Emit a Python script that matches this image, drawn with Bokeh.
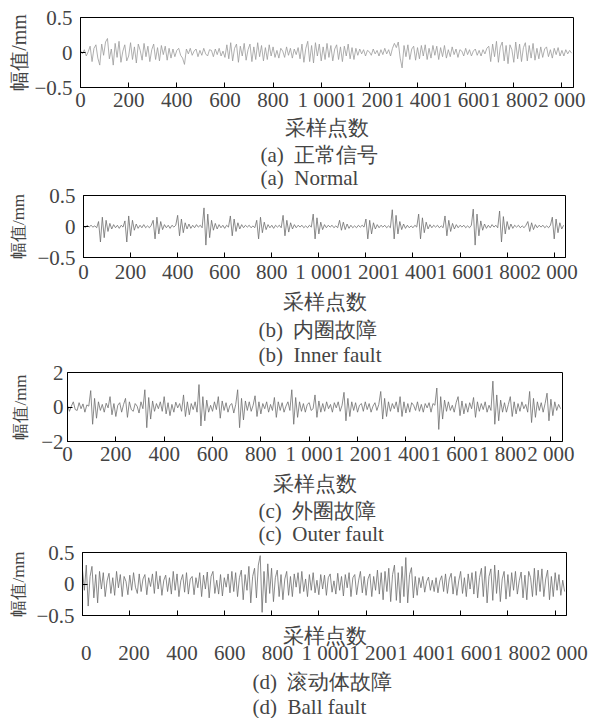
import numpy as np
from bokeh.plotting import figure
from bokeh.models import FixedTicker, LinearAxis, Range1d, Title
from bokeh.embed import file_html
from bokeh.resources import INLINE

# sample spacing of the values (samples 0..2047)
STEP = 8

normal = [
    .03, -.02, .04, -.05, .01, .09, -.13, .06, .11, -.08, -.18, .12, -.04, .15, .2, -.09,
    .05, -.18, .13, -.07, .16, -.14, .02, .11, -.12, -.05, .14, -.1, .08, -.15, .12, .03,
    -.11, .13, -.06, .09, -.13, .04, .12, -.1, .07, -.12, .1, -.03, .09, -.11, .06, -.08,
    .05, -.06, .03, .06, -.04, -.08, -.17, .05, -.02, .06, -.04, .02, .05, -.06, .03, -.04,
    .06, -.02, -.05, .04, .03, -.06, .05, -.03, .06, -.05, .02, -.07, .11, -.09, .14, -.12,
    .06, .12, -.14, .09, -.05, .13, -.11, .04, .12, -.13, .08, -.1, .14, -.06, .1, -.12,
    .07, -.1, .11, -.05, .08, -.07, .03, -.08, .06, .02, -.07, .08, -.04, .06, -.08, .05,
    -.03, .07, -.09, .12, -.14, .06, .16, -.13, .1, -.15, .14, -.05, .12, -.12, .08, -.1,
    .13, -.07, .1, -.12, .05, .11, -.1, .08, -.13, .09, -.05, .12, -.09, .07, -.1, .06,
    -.04, .05, -.02, .04, -.05, .03, .01, -.04, .05, -.02, .03, -.05, .04, -.03, .06, -.02,
    .04, -.05, .06, .13, .07, .15, -.08, -.22, .1, -.06, .11, -.1, .05, .09, -.11, .07,
    -.09, .1, -.05, .11, -.1, .06, -.08, .1, -.04, .09, -.1, .07, -.06, .1, -.08, .04,
    -.06, .08, -.03, .05, -.07, .04, .02, -.05, .06, -.03, .04, -.05, .02, .05, -.04, .03,
    -.05, .04, -.02, .06, .09, -.13, .12, -.06, .16, -.14, .08, .15, -.12, .1, -.16, .11,
    .04, -.14, .15, -.09, .12, -.13, .07, .14, -.12, .1, -.08, .13, -.11, .06, -.09, .08,
    -.07, .05, .08, -.06, .04, -.08, .06, -.03, .07, -.05, .03, -.05, .04, -.02, .03, -.01,
]

inner = [
    .01, -.02, .02, -.01, .02, -.01, .01, -.02,
    .08, -.25, .15, -.18, .1, -.08,
    .05, -.04, .03, -.02, .02, -.03, .02, -.01,
    .09, -.25, .17, -.15, .1, -.06,
    .04, -.03, .02, -.02, .03, -.02, .01, -.02, .02,
    .1, -.2, .15, -.12, .08, -.05,
    .03, -.02, .02, -.03, .02, -.01, .02,
    .18, -.15, .12, -.1, .06, -.04,
    .04, -.03, .02, -.02, .03, -.01, .02, -.02,
    .3, -.3, .2, -.18, .1, -.06,
    .05, -.04, .03, -.02, .02, -.03, .02, -.01,
    .17, -.15, .12, -.08, .06, -.04,
    .03, -.02, .02, -.01, .02, -.02, .01, -.02,
    .1, -.2, .15, -.1, .07, -.05,
    .03, -.02, .02, -.03, .02, -.01, .02, -.02,
    .18, -.15, .1, -.09, .06, -.04,
    .03, -.02, .02, -.01, .02, -.02, .01, -.02, .02, -.01,
    .2, -.2, .14, -.12, .07, -.05,
    .03, -.02, .02, -.01, .02, -.02, .01, -.02,
    .1, -.06, .07, -.05, .04, -.03,
    .02, -.02, .01, -.02, .02, -.01, .02, -.01,
    .12, -.2, .1, -.12, .06, -.04,
    .03, -.02, .02, -.01, .02, -.02, .01, -.02,
    .27, -.2, .18, -.12, .08, -.05,
    .04, -.03, .02, -.02, .01, -.02, .02, -.01,
    .2, -.2, .14, -.1, .07, -.04,
    .03, -.02, .02, -.01, .02, -.02, .01, -.02,
    .17, -.15, .1, -.08, .05, -.04,
    .03, -.02, .02, -.01, .02, -.02, .01, -.02, .02,
    .28, -.3, .2, -.15, .09, -.06,
    .04, -.03, .02, -.02, .03, -.01, .02, -.02,
    .25, -.25, .16, -.12, .08, -.05,
    .04, -.03, .02, -.01, .02, -.02, .01, -.02, .02,
    .08, -.08, .06, -.05, .03, -.02,
    .02, -.01, .02, -.02, .01, -.02, .02,
    .15, -.2, .12, -.1, .06, -.04, .02,
]

outer = [
    .1, -.25, .05, .3, -.15, -.2, .25, -.1, .18, -.3, .12, .05,
    .95, -1.0, .5, -.65, .3, -.2,
    .15, -.3, .22, -.05,
    .6, -.45, .2, -.55,
    .1, .25, -.3, .15,
    .5, -.6, .3, -.15,
    -.25, .2, .05, -.35, .3, -.1,
    1.0, -1.2, .55, -.7, .35, -.25,
    .2, -.1, .3, -.25,
    .6, -.4, .25, -.5,
    .15, -.3, .28, -.05, .2, -.25,
    .7, -.55, .3, -.45,
    .2, -.15, .3, -.3,
    1.3, -1.1, .6, -.8, .4, -.3,
    .1, -.25, .3, -.15,
    .6, -.65, .35, -.2,
    .25, -.3, .1, .2, -.35, .15,
    1.0, -1.2, .5, -.75, .35, -.2,
    .3, -.25, .1,
    .65, -.55, .3, -.4,
    .2, -.1, .3, -.3, .15, -.2,
    .55, -.6, .3, -.2,
    .25, -.3, .05, .3, -.2,
    1.0, -1.0, .55, -.6, .3, -.25,
    .2, -.3, .15, .25, -.2, -.1,
    .7, -.6, .35, -.3,
    .2, -.25, .3, -.1, .15, -.3, .25, -.05, .3, -.25, .1,
    .85, -.8, .5, -.55, .3, -.2,
    .25, -.3, .1, .2, -.25, .3, -.15, .2, -.3, .05, .25, -.2, .15,
    .9, -.7, .5, -.55, .3, -.25,
    .2, -.1, .3, -.3,
    .6, -.55, .3, -.35,
    .2, -.3, .25, .1, -.2, .3, -.25, .15, -.3, .2, -.05, .25, -.3, .2, .1,
    1.1, -1.3, .6, -.7, .4, -.25,
    .3, -.2, .1, -.3, .25,
    .6, -.5, .35, -.4,
    .2, -.3, .25, -.1,
    .55, -.6, .3, -.25,
    .2, -.15, .3, -.3, .1, -.2,
    1.5, -1.0, .7, -.8, .4, -.3,
    .25, -.3, .15,
    .6, -.55, .3, -.4,
    .2, -.25, .3, -.1, .15, -.3,
    .9, -.9, .5, -.6, .3, -.2,
    .25, -.3, .2,
    .8, -.8, .45, -.5, .3, -.2, .15, -.1,
]

ball = [
    .22, -.1, .3, -.35, .12, .28, -.22, .15, -.3, .2, -.08, .18, -.2, .05, .17, -.15,
    .1, -.18, .2, -.06, .15, -.2, .12, .04, -.17, .14, -.1, .18, -.05, -.15, .16, -.12,
    .08, .15, -.17, .1, -.04, .16, -.15, .2, -.08, .13, -.18, .06, .14, -.12, .1, -.16,
    .2, -.1, .16, -.2, .05, .15, -.13, .18, -.16, .08, .12, -.17, .1, -.06, .18, -.2,
    .14, -.08, .19, -.22, .12, .2, -.15, .06, -.16, .15, -.19, .1, -.05, .16, -.14, .2,
    -.12, .18, -.2, .1, .22, -.25, .15, -.1, .28, -.3, .12, .25, -.22, .3, .45, -.45,
    .2, -.3, .32, -.15, .25, -.28, .1, .22, -.2, .15, -.25, .08, .2, -.18, .12, -.2,
    .16, -.05, .18, -.15, .2, -.12, .08, -.2, .15, -.1, .18, -.14, .06, -.17, .15, -.08,
    .14, -.18, .1, .16, -.13, .05, -.16, .17, -.1, .12, -.19, .15, -.06, .18, -.2, .1,
    .15, -.17, .05, .2, -.14, .12, -.18, .08, .16, -.2, .12, -.1, .22, -.16, .18, -.25,
    .2, -.12, .25, -.28, .15, .3, -.26, .18, -.3, .28, -.2, .42, -.3, .15, .26, -.22,
    .12, -.18, .1, -.06, .12, -.13, .04, .11, -.1, .06, -.12, .1, -.14, .05, .13, -.12,
    .16, -.15, .08, .17, -.16, .12, -.18, .05, .2, -.15, .1, -.2, .16, -.08, .18, -.16,
    .2, -.22, .1, .25, -.2, .28, -.3, .12, .24, -.26, .3, -.15, .22, -.28, .08, .2,
    -.24, .15, -.2, .18, -.1, .2, -.16, .05, .19, -.22, .14, -.25, .2, .1, -.2, .25,
    -.18, .22, -.12, .24, -.2, .08, .22, -.25, .12, -.2, .18, -.1, .15, -.18, .06, -.12,
]

x_ticks = [0, 200, 400, 600, 800, 1000, 1200, 1400, 1600, 1800, 2000]
x_tick_labels = ["0", "200", "400", "600", "800", "1 000", "1 200", "1 400",
                 "1 600", "1 800", "2 000"]
x_label = "采样点数"
y_label = "幅值/mm"
y_ticks_small = [-0.5, 0, 0.5]
y_tick_labels_small = ["\u22120.5", "0", "0.5"]
y_ticks_large = [-2, 0, 2]
y_tick_labels_large = ["\u22122", "0", "2"]

NB = "\u00a0\u00a0"
captions = [
    ("(a)" + NB + "正常信号", "(a)" + NB + "Normal"),
    ("(b)" + NB + "内圈故障", "(b)" + NB + "Inner fault"),
    ("(c)" + NB + "外圈故障", "(c)" + NB + "Outer fault"),
    ("(d)" + NB + "滚动体故障", "(d)" + NB + "Ball fault"),
]

FONT = "Liberation Serif"
FS = "21px"


def panel(vals, ylim, yt, ytl, fig_h, left, top, frame_w, frame_h, caps, cap_off,
          color, ylab_standoff, ytick_standoff, s1, s2, t1, t2, overlap=0,
          ylab_fs="20px", labels_below_title=False, s3=0):
    fig_w = 602
    x = np.arange(len(vals)) * STEP
    p = figure(width=fig_w, height=fig_h,
               x_range=Range1d(0, 2048), y_range=Range1d(*ylim),
               output_backend="svg", toolbar_location=None,
               min_border_left=left, min_border_top=top,
               min_border_right=fig_w - left - frame_w,
               min_border_bottom=fig_h - top - frame_h,
               margin=(-overlap, 0, 0, 0))
    p.line(x, vals, line_color=color, line_width=0.8)
    p.xgrid.visible = False
    p.ygrid.visible = False
    p.outline_line_color = "black"
    p.outline_line_width = 1
    p.background_fill_color = "white"
    # transparent border so the canvas may overlap the panel above
    p.border_fill_color = None

    xa = p.xaxis[0]
    xa.axis_line_color = "black"
    xa.major_label_text_font = FONT
    xa.major_label_text_font_size = FS
    xa.axis_label = x_label
    xa.axis_label_text_font = FONT
    xa.axis_label_text_font_size = FS
    xa.axis_label_text_font_style = "normal"
    xa.axis_label_standoff = s2
    if labels_below_title:
        # tick marks only on the frame axis, labels on a second axis below the title
        xa.ticker = FixedTicker(ticks=[], minor_ticks=x_ticks)
        xa.minor_tick_in = 5
        xa.minor_tick_out = 0
        xa.minor_tick_line_color = "black"
        xa.major_label_standoff = s1
        p.extra_x_ranges = {"lbl": Range1d(-16, 2010)}
        xb = LinearAxis(x_range_name="lbl", ticker=FixedTicker(ticks=x_ticks),
                        major_label_overrides={t: s for t, s in zip(x_ticks, x_tick_labels)},
                        axis_line_color=None, major_tick_line_color=None,
                        minor_tick_line_color=None, major_tick_in=0, major_tick_out=0,
                        major_label_text_font=FONT, major_label_text_font_size=FS,
                        major_label_standoff=s3)
        p.add_layout(xb, "below")
    else:
        xa.ticker = FixedTicker(ticks=x_ticks)
        xa.major_label_overrides = {t: s for t, s in zip(x_ticks, x_tick_labels)}
        xa.minor_tick_line_color = None
        xa.major_tick_in = 5
        xa.major_tick_out = 0
        xa.major_label_standoff = s1

    ya = p.yaxis[0]
    ya.ticker = FixedTicker(ticks=yt)
    ya.major_label_overrides = {t: s for t, s in zip(yt, ytl)}
    ya.minor_tick_line_color = None
    ya.major_tick_in = 5
    ya.major_tick_out = 0
    ya.axis_line_color = "black"
    ya.major_label_text_font = FONT
    ya.major_label_text_font_size = FS
    ya.major_label_standoff = ytick_standoff
    ya.axis_label = y_label
    ya.axis_label_text_font = FONT
    ya.axis_label_text_font_size = ylab_fs
    ya.axis_label_text_font_style = "normal"
    ya.axis_label_standoff = ylab_standoff

    for c, st in zip(caps, (t1, t2)):
        t = Title(text=c, align="left", offset=cap_off, text_font=FONT,
                  text_font_size=FS, text_font_style="normal", standoff=st)
        p.add_layout(t, "below")
    return p


pa = panel(normal, (-0.5, 0.5), y_ticks_small, y_tick_labels_small,
           189, 80, 17, 493, 71, captions[0], 180, "#9a9a9a", 1, 8,
           s1=0, s2=1, t1=-4, t2=-1)
pb = panel(inner, (-0.5, 0.5), y_ticks_small, y_tick_labels_small,
           183, 83, 12, 482, 66, captions[1], 175, "#6e6e6e", 6, 8,
           s1=2, s2=3, t1=-2, t2=0, overlap=6, ylab_fs="17px")
pc = panel(outer, (-2, 2), y_ticks_large, y_tick_labels_large,
           187, 67, 13, 495, 69, captions[2], 191, "#6e6e6e", 8, 4,
           s1=0, s2=3, t1=-4, t2=-1, overlap=7, ylab_fs="17px")
pd = panel(ball, (-0.5, 0.5), y_ticks_small, y_tick_labels_small,
           179, 82, 13, 484, 66, captions[3], 170, "#6e6e6e", 5, 8,
           s1=0, s2=8, t1=0, t2=-1, overlap=7, ylab_fs="17px",
           labels_below_title=True, s3=-10)

open("out.html", "w").write(file_html([pa, pb, pc, pd], INLINE))
